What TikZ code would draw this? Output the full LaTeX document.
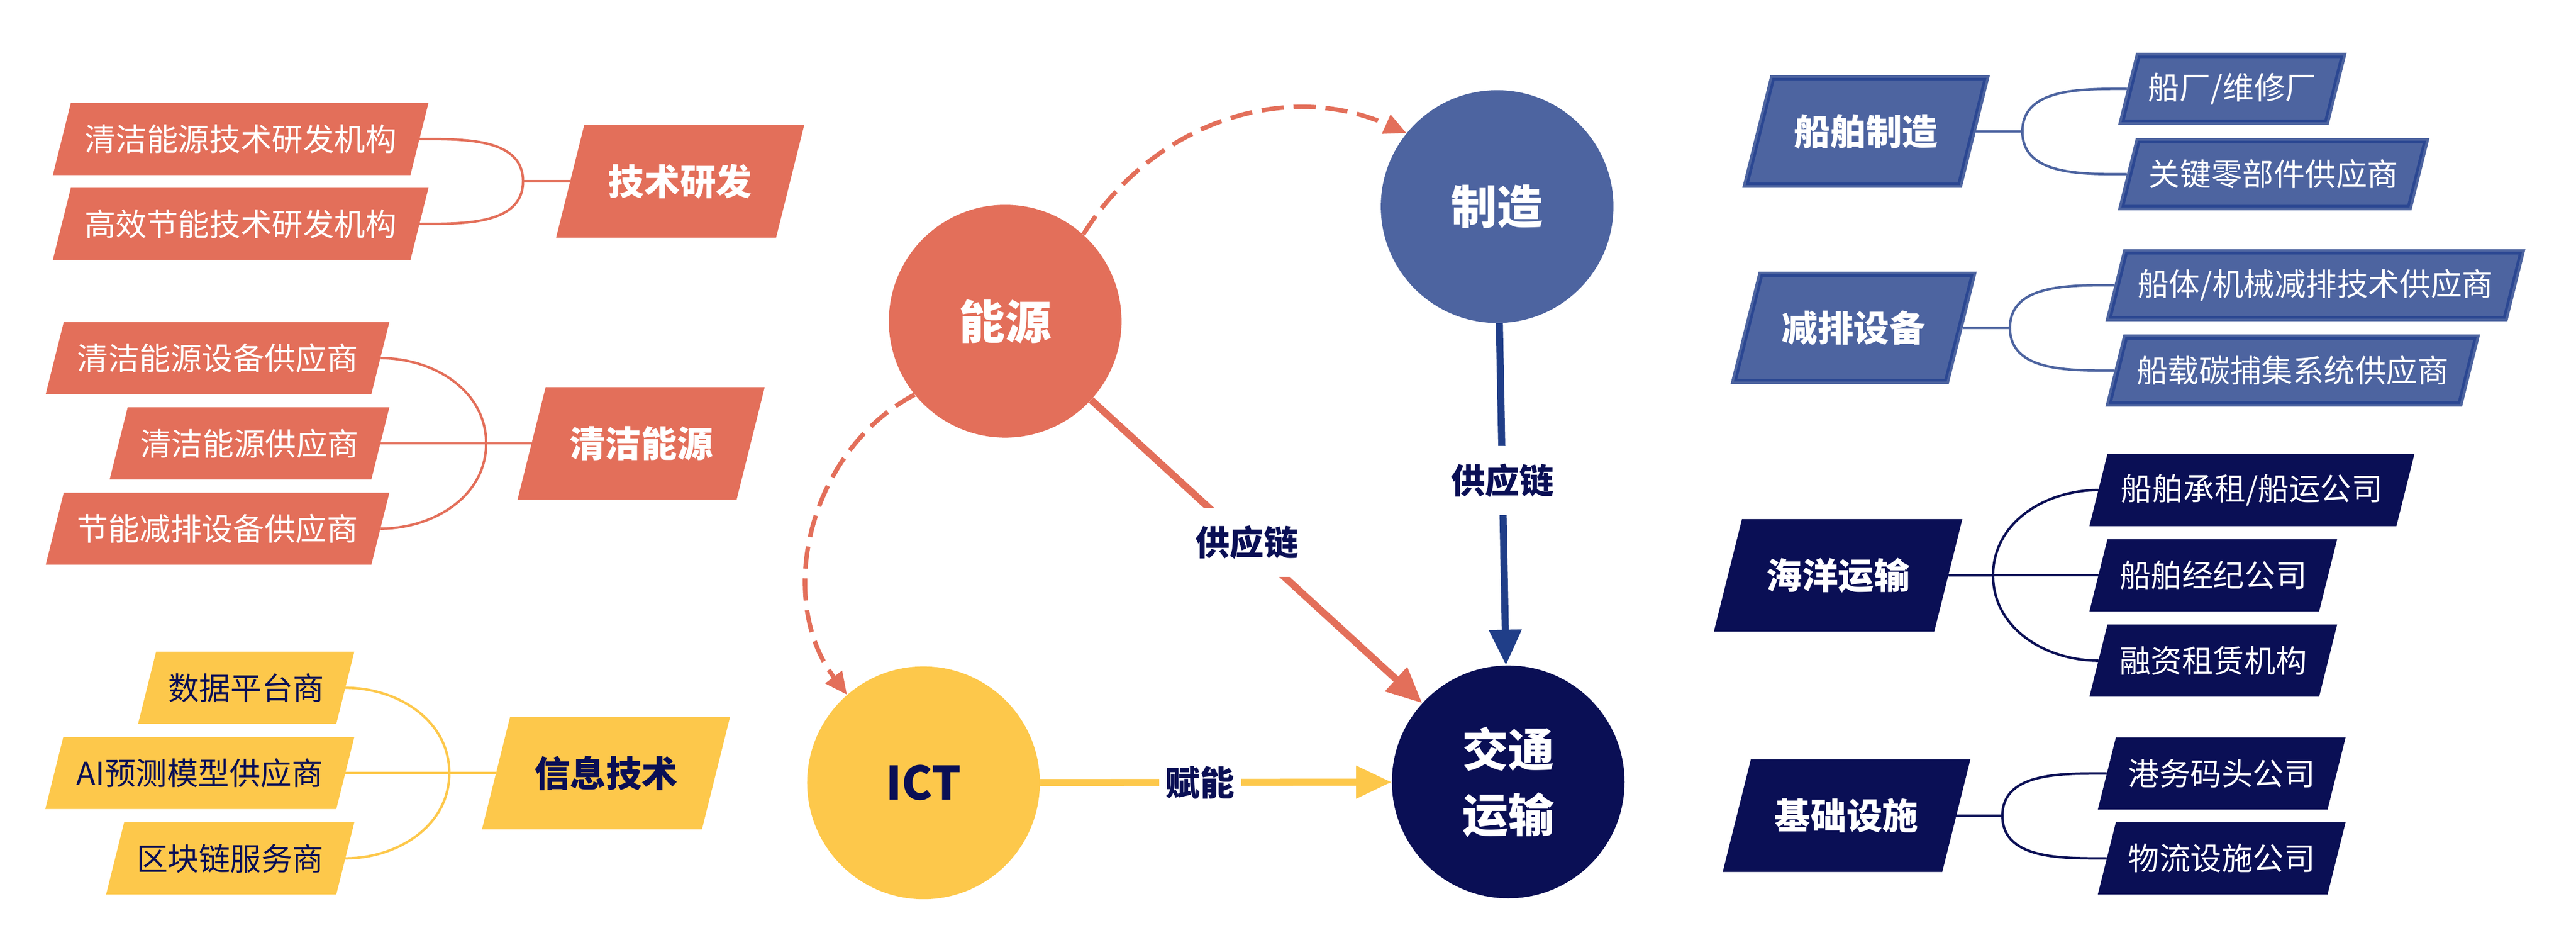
\documentclass[tikz,border=0pt]{standalone}
\usepackage{fontspec}
\setmainfont{Noto Sans CJK SC}
\usepackage{tikz}
\usetikzlibrary{calc, arrows.meta, backgrounds}
\definecolor{cEnergy}{HTML}{E36F5A}
\definecolor{cManu}{HTML}{4D64A0}
\definecolor{cManuLine}{HTML}{2B4792}
\definecolor{cNavy}{HTML}{0A0F55}
\definecolor{cIct}{HTML}{FDC84B}
\definecolor{cSupply}{HTML}{203E88}
\tikzset{leaf/.style={rectangle, inner sep=0pt, minimum height=1.61cm, text=white, font=\fontsize{20}{24}\selectfont},
hub/.style={rectangle, inner sep=0pt, minimum height=2.52cm, text=white, font=\fontsize{23}{28}\selectfont\bfseries},
core/.style={circle, inner sep=0pt, minimum size=5.24cm, align=center, font=\fontsize{29.5}{42}\selectfont\bfseries},
tree/.style={line width=0.55mm},
flow/.style={line width=1.6mm, -{Triangle[length=8mm, width=7mm]}},
dflow/.style={line width=1mm, dash pattern=on 5mm off 2.2mm, -{Triangle[length=5mm, width=4.5mm]}},
lab/.style={fill=white, text=cNavy, inner xsep=1.5mm, inner ysep=4mm, font=\fontsize{22}{26}\selectfont\bfseries}}

\begin{document}
\begin{tikzpicture}
\useasboundingbox (0,0) rectangle (58.02,21.27);
% left side
\node[leaf, minimum width=8.04cm] (s1) at (5.42,18.14) {清洁能源技术研发机构};
\node[leaf, minimum width=8.04cm] (s2) at (5.42,16.23) {高效节能技术研发机构};
\node[hub, minimum width=4.94cm] (rd) at (15.32,17.19) {技术研发};
\coordinate (j1) at (11.78,17.19);
\node[leaf, minimum width=7.32cm] (c1) at (4.90,13.21) {清洁能源设备供应商};
\node[leaf, minimum width=5.88cm] (c2) at (5.62,11.29) {清洁能源供应商};
\node[leaf, minimum width=7.32cm] (c3) at (4.90,9.37) {节能减排设备供应商};
\node[hub, minimum width=4.92cm] (clean) at (14.44,11.29) {清洁能源};
\coordinate (j2) at (10.95,11.29);
\node[leaf, text=cNavy, minimum width=4.45cm] (i1) at (5.545,5.79) {数据平台商};
\node[leaf, text=cNavy, minimum width=6.54cm] (i2) at (4.50,3.87) {AI预测模型供应商};
\node[leaf, text=cNavy, minimum width=5.17cm] (i3) at (5.185,1.95) {区块链服务商};
\node[hub, text=cNavy, minimum width=4.94cm] (info) at (13.65,3.87) {信息技术};
\coordinate (j3) at (10.12,3.87);
% right side
\node[hub, minimum width=4.93cm] (ship) at (42.03,18.31) {船舶制造};
\node[leaf, minimum width=4.73cm] (m1) at (50.28,19.27) {船厂/维修厂};
\node[leaf, minimum width=6.60cm] (m2) at (51.21,17.35) {关键零部件供应商};
\coordinate (j4) at (45.55,18.31);
\node[hub, minimum width=4.90cm] (emis) at (41.75,13.89) {减排设备};
\node[leaf, minimum width=9.04cm] (e1) at (52.15,14.85) {船体/机械减排技术供应商};
\node[leaf, minimum width=8.02cm] (e2) at (51.64,12.93) {船载碳捕集系统供应商};
\coordinate (j5) at (45.27,13.89);
\node[hub, minimum width=4.95cm] (ocean) at (41.40,8.32) {海洋运输};
\node[leaf, minimum width=6.90cm] (t1) at (50.72,10.24) {船舶承租/船运公司};
\node[leaf, minimum width=5.16cm] (t2) at (49.85,8.32) {船舶经纪公司};
\node[leaf, minimum width=5.16cm] (t3) at (49.85,6.40) {融资租赁机构};
\coordinate (j6) at (44.89,8.32);
\node[hub, minimum width=4.93cm] (infra) at (41.59,2.91) {基础设施};
\node[leaf, minimum width=5.16cm] (f1) at (50.04,3.86) {港务码头公司};
\node[leaf, minimum width=5.16cm] (f2) at (50.04,1.95) {物流设施公司};
\coordinate (j7) at (45.10,2.91);
% centre
\node[core, fill=cEnergy, text=white] (ener) at (22.64,14.04) {能源};
\node[core, fill=cManu, text=white] (manu) at (33.72,16.62) {制造};
\node[core, fill=cIct, text=cNavy] (ict) at (20.80,3.65) {ICT};
\node[core, fill=cNavy, text=white] (trans) at (33.97,3.67) {交通\\运输};

\begin{scope}[on background layer]
\foreach \b/\col in {s1/cEnergy, s2/cEnergy, rd/cEnergy, c1/cEnergy, c2/cEnergy, c3/cEnergy, clean/cEnergy,
  i1/cIct, i2/cIct, i3/cIct, info/cIct, ship/cManu, m1/cManu, m2/cManu, emis/cManu, e1/cManu, e2/cManu,
  ocean/cNavy, t1/cNavy, t2/cNavy, t3/cNavy, infra/cNavy, f1/cNavy, f2/cNavy}
  \fill[\col] let \p1=(\b.north), \p2=(\b.south), \n1={(\y1-\y2)/8} in
    ($(\b.north west)+(\n1,0)$) -- ($(\b.north east)+(\n1,0)$) -- ($(\b.south east)-(\n1,0)$) -- ($(\b.south west)-(\n1,0)$) -- cycle;
\foreach \b in {ship, m1, m2, emis, e1, e2}
  \draw[cManuLine, line width=0.6mm] let \p1=(\b.north), \p2=(\b.south), \n1={(\y1-\y2)/8} in
    ($(\b.north west)+(\n1+0.7mm,-0.9mm)$) -- ($(\b.north east)+(\n1-1.15mm,-0.9mm)$) -- ($(\b.south east)+(-\n1-0.7mm,0.9mm)$) -- ($(\b.south west)+(-\n1+1.15mm,0.9mm)$) -- cycle;
\end{scope}

\draw[tree, cEnergy] (s1.east) to[out=0, in=90] (j1) -- (rd.west);
\draw[tree, cEnergy] (s2.east) to[out=0, in=-90] (j1);
\draw[tree, cEnergy] (c1.east) to[out=0, in=90] (j2);
\draw[tree, cEnergy] (c3.east) to[out=0, in=-90] (j2);
\draw[tree, cEnergy] (c2.east) -- (j2) -- (clean.west);
\draw[tree, cIct] (i1.east) to[out=0, in=90] (j3);
\draw[tree, cIct] (i3.east) to[out=0, in=-90] (j3);
\draw[tree, cIct] (i2.east) -- (j3) -- (info.west);
\draw[tree, cManu] (ship.east) -- (j4) to[out=90, in=180] (m1.west);
\draw[tree, cManu] (j4) to[out=-90, in=180] (m2.west);
\draw[tree, cManu] (emis.east) -- (j5) to[out=90, in=180] (e1.west);
\draw[tree, cManu] (j5) to[out=-90, in=180] (e2.west);
\draw[tree, cNavy] (ocean.east) -- (j6) to[out=90, in=180] (t1.west);
\draw[tree, cNavy] (j6) -- (t2.west);
\draw[tree, cNavy] (j6) to[out=-90, in=180] (t3.west);
\draw[tree, cNavy] (infra.east) -- (j7) to[out=90, in=180] (f1.west);
\draw[tree, cNavy] (j7) to[out=-90, in=180] (f2.west);

\draw[flow, cEnergy] (ener) -- node[lab, pos=0.47] {供应链} (trans);
\draw[flow, cSupply] (manu) -- node[lab, pos=0.46] {供应链} (trans);
\draw[flow, cIct] (ict) -- node[lab, pos=0.455] {赋能} (trans);
\draw[dflow, cEnergy] (ener.48) to[out=58, in=156] (manu.141);
\draw[dflow, cEnergy] (ener.219) to[out=208, in=127] (ict.131);
\end{tikzpicture}
\end{document}
